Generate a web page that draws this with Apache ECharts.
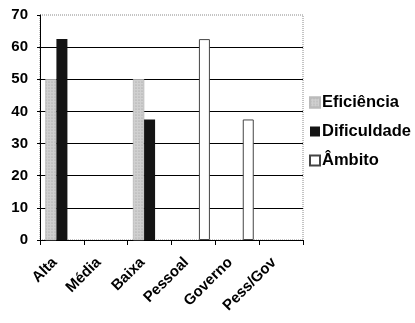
<!DOCTYPE html>
<html>
<head>
<meta charset="utf-8">
<script src="https://cdn.jsdelivr.net/npm/echarts@6/dist/echarts.min.js"></script>
<style>
  html, body { margin: 0; padding: 0; background: #fff; }
  #chart { width: 415px; height: 323px; }
</style>
</head>
<body>
<div id="chart"></div>
<script>
// Categories along the x axis
const categories = ['Alta', 'Média', 'Baixa', 'Pessoal', 'Governo', 'Pess/Gov'];
// Series values (null = no bar)
const eficiencia = [50, null, 50, null, null, null];
const dificuldade = [62.5, null, 37.5, null, null, null];
const ambito = [null, null, null, 62.5, 37.5, null];
// Value axis range
const yMin = 0, yMax = 70, yStep = 10;

const font = '"Liberation Sans", Arial, sans-serif';
const chart = echarts.init(document.getElementById('chart'), null, { renderer: 'canvas' });

chart.setOption({
  animation: false,
  backgroundColor: '#fff',
  grid: {
    left: 40, top: 15, right: 112, bottom: 83,
    show: true,
    borderColor: '#888',
    borderWidth: 1,
    borderType: 'dotted'
  },
  legend: {
    orient: 'vertical',
    left: 304,
    top: 89,
    itemWidth: 10,
    itemHeight: 10,
    itemGap: 12,
    icon: 'rect',
    textStyle: { fontFamily: font, fontWeight: 'bold', fontSize: 16.5, color: '#000', padding: [0, 0, 0, -3] },
    data: ['Eficiência', 'Dificuldade', 'Âmbito']
  },
  xAxis: {
    type: 'category',
    data: categories,
    axisLine: { lineStyle: { color: '#000', width: 1 } },
    axisTick: { show: true, length: 5, lineStyle: { color: '#000' } },
    axisLabel: {
      interval: 0, rotate: 45, margin: 13,
      padding: [0, 10, 0, 0],
      fontFamily: font, fontWeight: 'bold', fontSize: 15, color: '#000'
    }
  },
  yAxis: {
    type: 'value',
    min: yMin, max: yMax, interval: yStep,
    axisLine: { show: true, lineStyle: { color: '#000', width: 1 } },
    axisTick: { show: true, length: 3, lineStyle: { color: '#000' } },
    axisLabel: { margin: 12, fontFamily: font, fontWeight: 'bold', fontSize: 15, color: '#000' },
    splitLine: {
      show: true,
      lineStyle: { color: ['#000', '#000', '#000', '#000', '#000', '#000', '#000', 'rgba(0,0,0,0)'], width: 1 }
    }
  },
  series: [
    {
      name: 'Eficiência', type: 'bar', data: eficiencia,
      barWidth: 11, barGap: '0%',
      itemStyle: {
        color: '#d0d0d0',
        borderColor: '#bbb', borderWidth: 0.5,
        decal: { symbol: 'circle', symbolSize: 0.6, dashArrayX: [2, 1], dashArrayY: [2, 1], color: 'rgba(110,110,110,0.55)' }
      }
    },
    {
      name: 'Dificuldade', type: 'bar', data: dificuldade,
      barWidth: 11, barGap: '0%',
      itemStyle: { color: '#141414' }
    },
    {
      name: 'Âmbito', type: 'bar', data: ambito,
      barWidth: 11, barGap: '0%',
      itemStyle: { color: '#fff', borderColor: '#444', borderWidth: 1 }
    }
  ]
});
</script>
</body>
</html>
